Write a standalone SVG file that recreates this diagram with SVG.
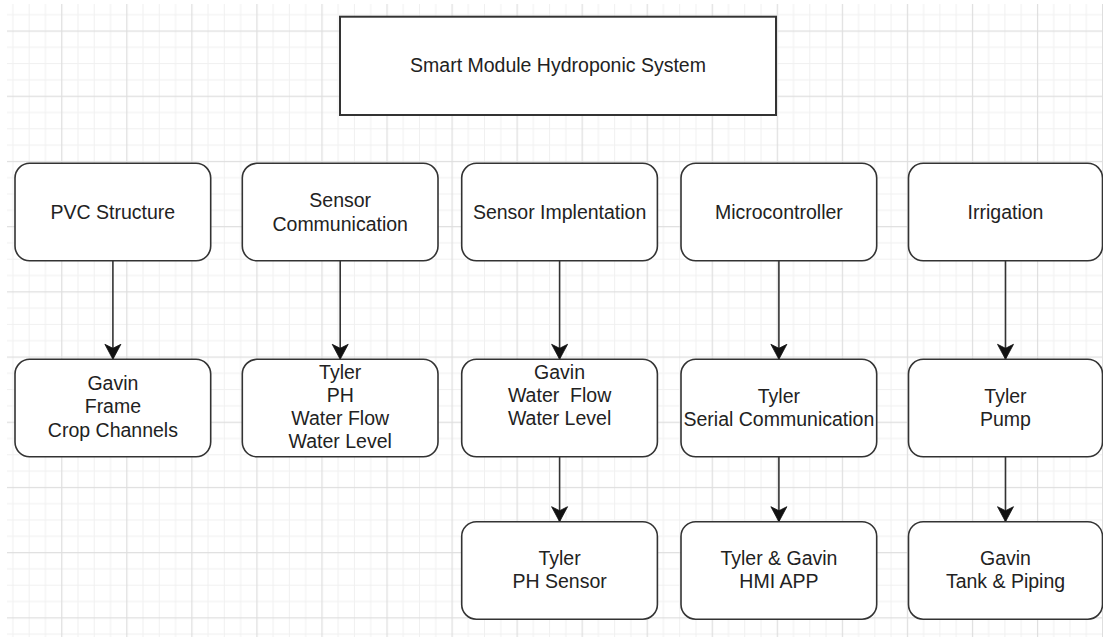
<svg xmlns="http://www.w3.org/2000/svg" width="1103" height="637" viewBox="0 0 1103 637">
<style>
.box{fill:#fff;stroke:#333;stroke-width:1.6}
.title{fill:#fff;stroke:#333;stroke-width:2}
.lbl{font-family:"Liberation Sans",Arial,Helvetica,sans-serif;font-size:19.5px;fill:#222;text-anchor:middle}
.edge{fill:none;stroke:#333;stroke-width:1.6;marker-end:url(#arr)}
</style>
<defs>
<pattern id="grid" patternUnits="userSpaceOnUse" x="61.2" y="30.5" width="65.05" height="65.2">
<rect x="16.26" y="0" width="1" height="65.2" fill="#f0f0f0"/>
<rect x="32.52" y="0" width="1" height="65.2" fill="#f0f0f0"/>
<rect x="48.79" y="0" width="1" height="65.2" fill="#f0f0f0"/>
<rect x="0" y="16.3" width="65.05" height="1" fill="#f0f0f0"/>
<rect x="0" y="32.6" width="65.05" height="1" fill="#f0f0f0"/>
<rect x="0" y="48.9" width="65.05" height="1" fill="#f0f0f0"/>
<rect x="0" y="0" width="1.2" height="65.2" fill="#dedede"/>
<rect x="0" y="0" width="65.05" height="1.2" fill="#dedede"/>
</pattern>
<marker id="arr" markerUnits="userSpaceOnUse" markerWidth="18" markerHeight="18" viewBox="0 -9 16 18" refX="15" refY="0" orient="auto">
<path d="M0,-8 L15,0 L0,8 L4,0 Z" fill="#111" stroke="#111" stroke-width="0.8"/>
</marker>
</defs>
<rect x="0" y="0" width="1103" height="637" fill="#fff"/>
<rect x="7" y="4" width="1096" height="633" fill="url(#grid)"/>

<g id="connectors">
<path class="edge" d="M112.9,260.8 V359.3"/>
<path class="edge" d="M340.2,260.8 V359.3"/>
<path class="edge" d="M559.6,260.8 V359.3"/>
<path class="edge" d="M778.9,260.8 V359.3"/>
<path class="edge" d="M1005.5,260.8 V359.3"/>
<path class="edge" d="M559.6,456.8 V521.7"/>
<path class="edge" d="M778.9,456.8 V521.7"/>
<path class="edge" d="M1005.5,456.8 V521.7"/>
</g>

<g id="n-title">
<rect class="title" x="340" y="16.7" width="436" height="98.3"/>
<text class="lbl" x="558" y="72">Smart Module Hydroponic System</text>
</g>

<g id="n-pvc">
<rect class="box" x="15" y="163.3" width="195.7" height="97.5" rx="14.7"/>
<text class="lbl" x="112.9" y="219">PVC Structure</text>
</g>
<g id="n-sensorcomm">
<rect class="box" x="242.3" y="163.3" width="195.7" height="97.5" rx="14.7"/>
<text class="lbl" x="340.2" y="207.3">Sensor</text>
<text class="lbl" x="340.2" y="230.7">Communication</text>
</g>
<g id="n-sensorimpl">
<rect class="box" x="461.7" y="163.3" width="195.7" height="97.5" rx="14.7"/>
<text class="lbl" x="559.6" y="219">Sensor Implentation</text>
</g>
<g id="n-micro">
<rect class="box" x="681" y="163.3" width="195.7" height="97.5" rx="14.7"/>
<text class="lbl" x="778.9" y="219">Microcontroller</text>
</g>
<g id="n-irrigation">
<rect class="box" x="908.5" y="163.3" width="194" height="97.5" rx="14.7"/>
<text class="lbl" x="1005.5" y="219">Irrigation</text>
</g>

<g id="n-gavin-frame">
<rect class="box" x="15" y="359.3" width="195.7" height="97.5" rx="14.7"/>
<text class="lbl" x="112.9" y="390">Gavin</text>
<text class="lbl" x="112.9" y="413">Frame</text>
<text class="lbl" x="112.9" y="436.5">Crop Channels</text>
</g>
<g id="n-tyler-sensors">
<rect class="box" x="242.3" y="359.3" width="195.7" height="97.5" rx="14.7"/>
<text class="lbl" x="340.2" y="378.5">Tyler</text>
<text class="lbl" x="340.2" y="402">PH</text>
<text class="lbl" x="340.2" y="425">Water Flow</text>
<text class="lbl" x="340.2" y="448">Water Level</text>
</g>
<g id="n-gavin-water">
<rect class="box" x="461.7" y="359.3" width="195.7" height="97.5" rx="14.7"/>
<text class="lbl" x="559.6" y="378.5">Gavin</text>
<text class="lbl" x="559.6" y="402" xml:space="preserve">Water  Flow</text>
<text class="lbl" x="559.6" y="425">Water Level</text>
</g>
<g id="n-tyler-serial">
<rect class="box" x="681" y="359.3" width="195.7" height="97.5" rx="14.7"/>
<text class="lbl" x="778.9" y="403">Tyler</text>
<text class="lbl" x="778.9" y="425.5">Serial Communication</text>
</g>
<g id="n-tyler-pump">
<rect class="box" x="908.5" y="359.3" width="194" height="97.5" rx="14.7"/>
<text class="lbl" x="1005.5" y="403">Tyler</text>
<text class="lbl" x="1005.5" y="425.5">Pump</text>
</g>

<g id="n-tyler-ph">
<rect class="box" x="461.7" y="521.7" width="195.7" height="97.5" rx="14.7"/>
<text class="lbl" x="559.6" y="564.5">Tyler</text>
<text class="lbl" x="559.6" y="587.5">PH Sensor</text>
</g>
<g id="n-hmi">
<rect class="box" x="681" y="521.7" width="195.7" height="97.5" rx="14.7"/>
<text class="lbl" x="778.9" y="564.5">Tyler &amp; Gavin</text>
<text class="lbl" x="778.9" y="587.5">HMI APP</text>
</g>
<g id="n-tank">
<rect class="box" x="908.5" y="521.7" width="194" height="97.5" rx="14.7"/>
<text class="lbl" x="1005.5" y="564.5">Gavin</text>
<text class="lbl" x="1005.5" y="587.5">Tank &amp; Piping</text>
</g>
</svg>
